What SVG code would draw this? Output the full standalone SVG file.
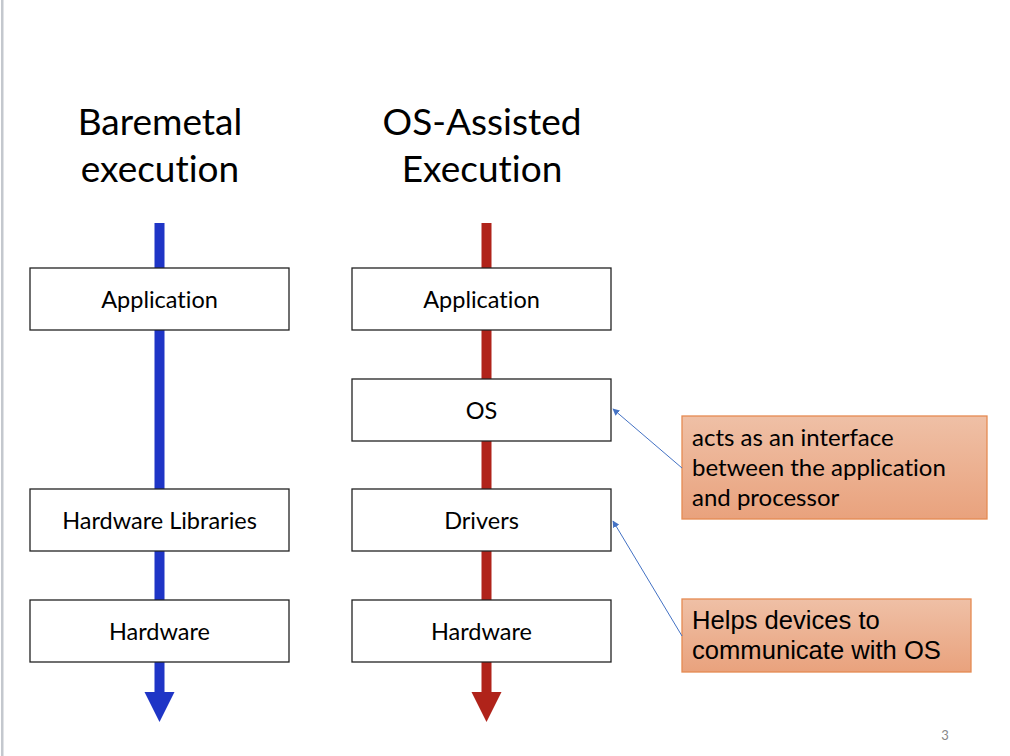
<svg xmlns="http://www.w3.org/2000/svg" width="1010" height="756" viewBox="0 0 1010 756">
<defs>
<linearGradient id="og" x1="0" y1="0" x2="0" y2="1">
<stop offset="0" stop-color="#EFC0A6"/>
<stop offset="1" stop-color="#E9A27D"/>
</linearGradient>
<marker id="ah" viewBox="0 0 10 10" refX="9" refY="5" markerWidth="7" markerHeight="7" orient="auto" markerUnits="userSpaceOnUse">
<path d="M0,0 L10,5 L0,10 z" fill="#4472C4"/>
</marker>
</defs>
<style>
text{font-variant-ligatures:none}
.box{fill:#fff;stroke:#222;stroke-width:1.3}
.lbl{font-family:Lato,"Open Sans",sans-serif;font-size:23.5px;fill:#000;text-anchor:middle}
.ttl{font-family:Lato,"Open Sans",sans-serif;font-size:37px;fill:#000;text-anchor:middle}
.call{fill:url(#og);stroke:#E58A52;stroke-width:1.3}
.ctxt{font-family:Lato,"Open Sans",sans-serif;font-size:24px;fill:#000}
.atxt{font-family:"Liberation Sans",Arial,sans-serif;font-size:25.6px;fill:#000}
.conn{stroke:#4472C4;stroke-width:1;fill:none}
</style>
<rect x="0" y="0" width="1010" height="756" fill="#fff"/>
<rect x="1" y="0" width="2.5" height="756" fill="#C4C8CE"/>
<g id="flows">
<rect x="154.5" y="223" width="10" height="470" fill="#1F35C6"/>
<polygon points="144.5,692 174.5,692 159.5,722" fill="#1F35C6"/>
<rect x="481.5" y="223" width="10" height="470" fill="#B0231A"/>
<polygon points="471.5,692 501.5,692 486.5,722" fill="#B0231A"/>
</g>
<g id="titles">
<text class="ttl" x="160" y="135">Baremetal</text>
<text class="ttl" x="160" y="182">execution</text>
<text class="ttl" x="482" y="135">OS-Assisted</text>
<text class="ttl" x="482" y="182">Execution</text>
</g>
<g id="bm-app"><rect class="box" x="30" y="268" width="259" height="62"/><text class="lbl" x="159.5" y="308">Application</text></g>
<g id="bm-hwlib"><rect class="box" x="30" y="489" width="259" height="62"/><text class="lbl" x="159.5" y="529">Hardware Libraries</text></g>
<g id="bm-hw"><rect class="box" x="30" y="600" width="259" height="62"/><text class="lbl" x="159.5" y="640">Hardware</text></g>
<g id="os-app"><rect class="box" x="352" y="268" width="259" height="62"/><text class="lbl" x="481.5" y="308">Application</text></g>
<g id="os-os"><rect class="box" x="352" y="379" width="259" height="62"/><text class="lbl" x="481.5" y="419">OS</text></g>
<g id="os-drv"><rect class="box" x="352" y="489" width="259" height="62"/><text class="lbl" x="481.5" y="529">Drivers</text></g>
<g id="os-hw"><rect class="box" x="352" y="600" width="259" height="62"/><text class="lbl" x="481.5" y="640">Hardware</text></g>
<g id="callout-os"><rect class="call" x="682" y="416" width="305" height="103"/>
<text class="ctxt" x="692" y="446">acts as an interface</text>
<text class="ctxt" x="692" y="476">between the application</text>
<text class="ctxt" x="692" y="506">and processor</text></g>
<g id="callout-drv"><rect class="call" x="682" y="599" width="289" height="73"/>
<text class="atxt" x="692" y="629">Helps devices to</text>
<text class="atxt" x="692" y="659">communicate with OS</text></g>
<g id="connectors">
<line class="conn" x1="682" y1="468" x2="613" y2="409" marker-end="url(#ah)"/>
<line class="conn" x1="682" y1="636" x2="613" y2="521" marker-end="url(#ah)"/>
</g>
<text x="945" y="740" font-family="Lato,'Open Sans',sans-serif" font-size="13" fill="#888" text-anchor="middle">3</text>
</svg>
